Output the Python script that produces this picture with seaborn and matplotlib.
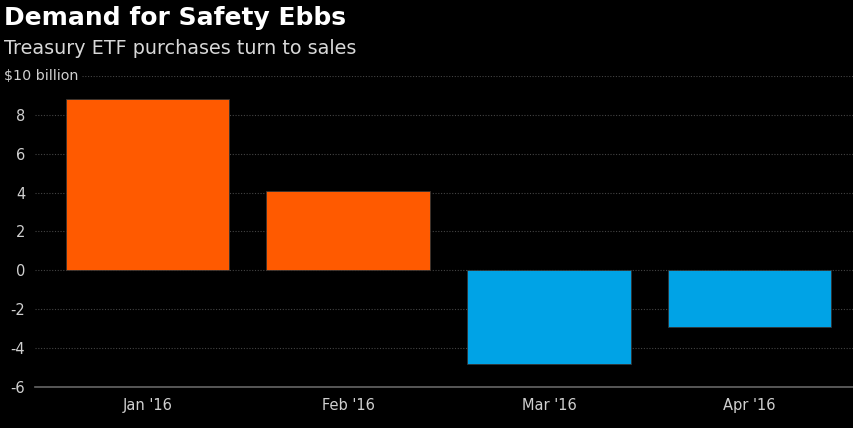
import pandas as pd
import numpy as np
import matplotlib.pyplot as plt
import seaborn as sns

# monthly flows, $10 billion units
months = ["Jan '16", "Feb '16", "Mar '16", "Apr '16"]
flows = [8.8, 4.1, -4.8, -2.9]
bar_colors = ['#FF5A00', '#FF5A00', '#00A3E6', '#00A3E6']
yticks = [-6, -4, -2, 0, 2, 4, 6, 8]

df = pd.DataFrame({'Month': months, 'Flow': flows})

sns.set_style('dark')
plt.rcParams['font.family'] = ['DejaVu Sans']

fig = plt.figure(figsize=(8.54, 4.28), dpi=100, facecolor='black')
ax = fig.add_axes([35 / 854, 1 - 387 / 428, 1 - 35 / 854, (387 - 76) / 428])
ax.set_facecolor('black')

sns.barplot(data=df, x='Month', y='Flow', hue='Month', palette=bar_colors,
            width=0.815, legend=False, saturation=1, ax=ax,
            edgecolor='#333333', linewidth=0.6, zorder=3)

ax.set_xlim(-0.56, 3.52)
ax.set_ylim(-6, 10)
ax.set_yticks(yticks)
ax.set_yticklabels([str(t) for t in yticks])

# dotted gridlines
for t in yticks[1:]:
    ax.axhline(t, color='#444444', lw=0.8, ls=(0, (1, 1.5)), zorder=1)
ax.axhline(10, xmin=(82 - 35) / 819, color='#444444', lw=0.8, ls=(0, (1, 1.5)), zorder=1)
ax.grid(False)

for s in ['top', 'right', 'left']:
    ax.spines[s].set_visible(False)
ax.spines['bottom'].set_color('#666666')
ax.spines['bottom'].set_linewidth(1.2)

ax.tick_params(axis='y', length=0, pad=7, labelcolor='#d0d0d0', labelsize=10.5)
ax.tick_params(axis='x', length=3, color='#666666', pad=5, labelcolor='#d0d0d0', labelsize=10.5)
ax.set_xlabel('')
ax.set_ylabel('')

fig.text(4 / 854, 1 - 18 / 428, 'Demand for Safety Ebbs', color='white',
         fontsize=18, fontweight='bold', va='center', ha='left')
fig.text(4 / 854, 1 - 48 / 428, 'Treasury ETF purchases turn to sales', color='#d8d8d8',
         fontsize=13.8, va='center', ha='left')
fig.text(4 / 854, 1 - 76 / 428, '$10 billion', color='#d0d0d0',
         fontsize=10.3, va='center', ha='left')

fig.savefig('out.png', dpi=100, facecolor='black')
